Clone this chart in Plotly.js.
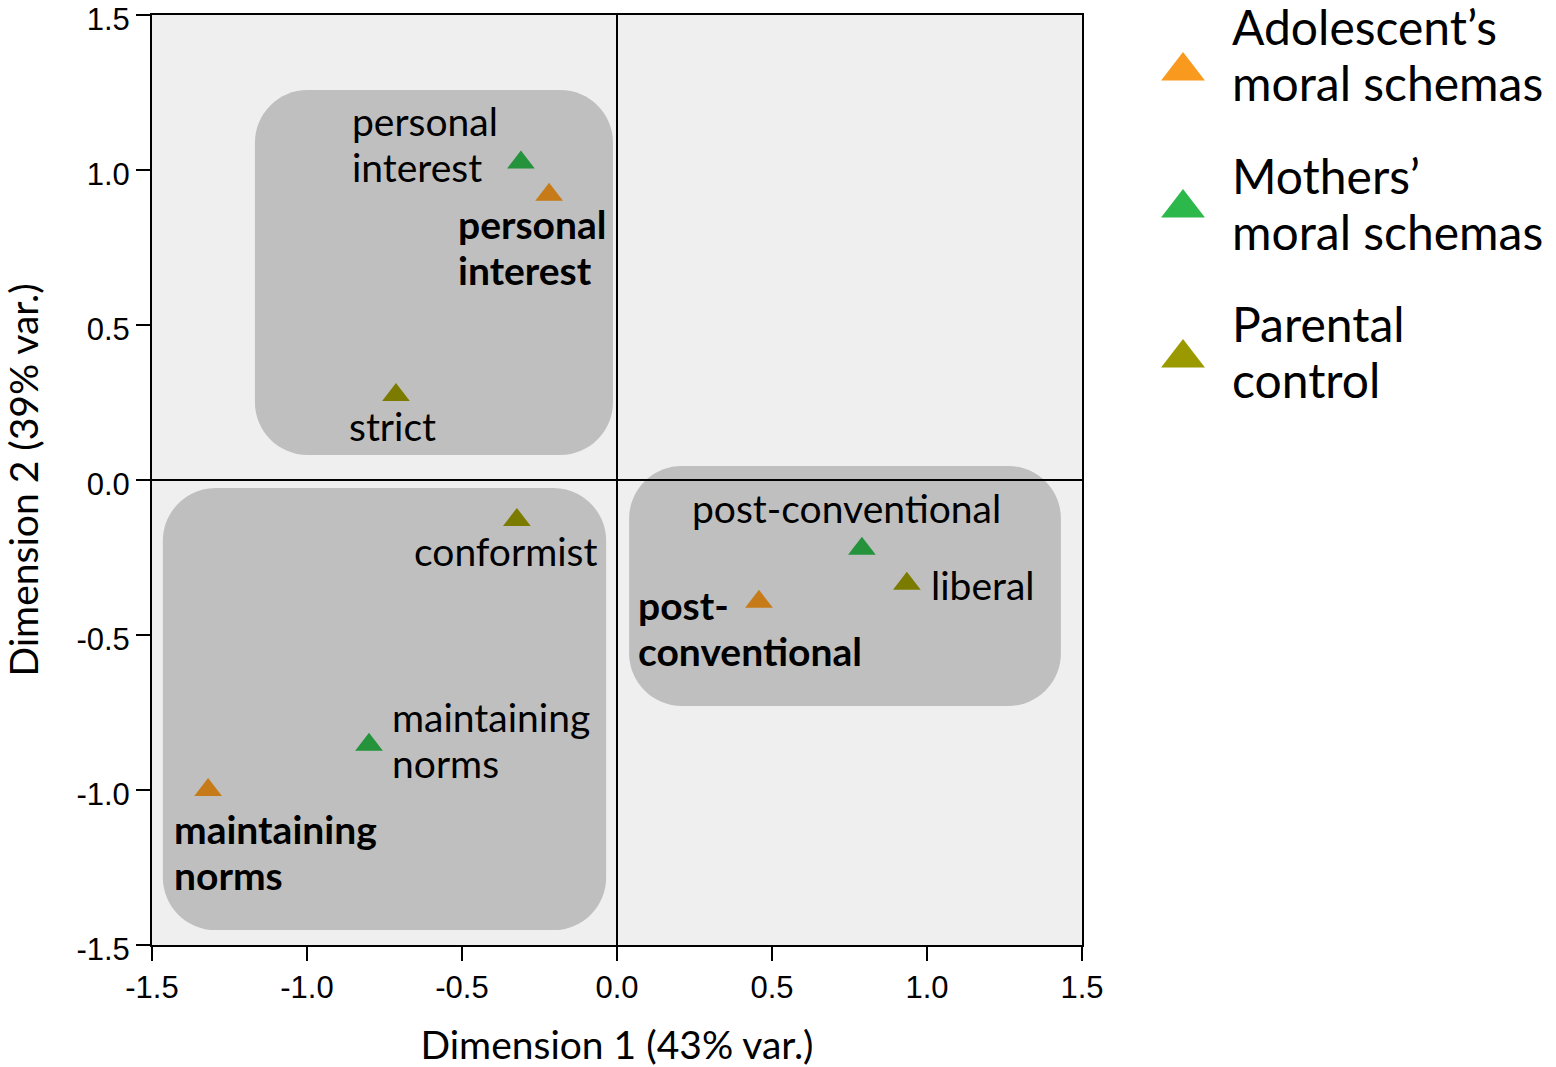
<!DOCTYPE html>
<html><head><meta charset="utf-8">
<script src="https://cdn.plot.ly/plotly-3.0.1.min.js"></script>
<style>html,body{margin:0;padding:0;background:#fff}</style>
</head><body><div id="chart" style="width:1556px;height:1067px"></div>
<script>
// ---- data ----
const seriesNames = ['Adolescent’s<br>moral schemas', 'Mothers’<br>moral schemas', 'Parental<br>control'];
const adolX = [-0.219, -1.319, 0.458];
const adolY = [0.920, -1.000, -0.393];
const adolLabels = ['personal<br>interest', 'maintaining<br>norms', 'post-<br>conventional'];
const motherX = [-0.310, -0.800, 0.790];
const motherY = [1.024, -0.854, -0.222];
const motherLabels = ['personal<br>interest', 'maintaining<br>norms', 'post-conventional'];
const parentX = [-0.713, -0.323, 0.935];
const parentY = [0.274, -0.129, -0.335];
const parentLabels = ['strict', 'conformist', 'liberal'];
const tickVals = [-1.5, -1.0, -0.5, 0, 0.5, 1.0, 1.5];
const tickText = ['-1.5', '-1.0', '-0.5', '0.0', '0.5', '1.0', '1.5'];

// ---- styling / layout helpers ----
const colors = ['#f99a1e', '#2db84b', '#9a9a00'];
const FONT = 'Lato, "Open Sans", sans-serif';
const labelSize = 39, labelLine = 46;
const globalDX = -3, globalDY = -4;
// label offsets in pixels [dx to left edge, dy down to block centre] relative to point
const adolOff = [[-90, 56], [-33, 66], [-120, 30]];
const motherOff = [[-168, -15], [24, -1], [-169, -37]];
const parentOff = [[-46, 35], [-102, 35], [25, 5]];

const series = [
  {x: adolX, y: adolY, labels: adolLabels, off: adolOff, bold: true},
  {x: motherX, y: motherY, labels: motherLabels, off: motherOff, bold: false},
  {x: parentX, y: parentY, labels: parentLabels, off: parentOff, bold: false}
];

const traces = series.map((s, i) => ({
  type: 'scatter', mode: 'markers', x: s.x, y: s.y, name: seriesNames[i],
  marker: {symbol: 'triangle-up', size: 24, color: colors[i], line: {width: 0}},
  showlegend: false, hoverinfo: 'skip', xaxis: 'x', yaxis: 'y'
}));

const annotations = [];
series.forEach((s) => {
  s.x.forEach((xv, j) => {
    const lines = s.labels[j].split('<br>');
    const n = lines.length;
    lines.forEach((ln, k) => {
      const dyLine = s.off[j][1] + globalDY + (k - (n - 1) / 2) * labelLine;
      annotations.push({
        x: xv, y: s.y[j], xref: 'x', yref: 'y', showarrow: false,
        text: s.bold ? '<b>' + ln + '</b>' : ln,
        xanchor: 'left', yanchor: 'middle',
        xshift: s.off[j][0] + globalDX, yshift: -dyLine,
        font: {family: FONT, size: labelSize, color: '#000'}
      });
    });
  });
});

// legend (drawn in a hidden pixel-scaled axis in the right margin)
const legendMarkY = [71, 208, 358];
const legendTextY = [54, 203, 351];
const legendMarkX = 1183, legendTextX = 1230, legendLine = 56, legendSize = 48;
traces.push({
  type: 'scatter', mode: 'markers', xaxis: 'x2', yaxis: 'y2',
  x: legendMarkY.map(() => legendMarkX), y: legendMarkY,
  marker: {symbol: 'triangle-up', size: 38, color: colors},
  showlegend: false, hoverinfo: 'skip'
});
seriesNames.forEach((nm, i) => {
  const lines = nm.split('<br>');
  lines.forEach((ln, k) => {
    annotations.push({
      x: legendTextX, y: legendTextY[i] + (k - (lines.length - 1) / 2) * legendLine,
      xref: 'x2', yref: 'y2', showarrow: false, text: ln,
      xanchor: 'left', yanchor: 'middle',
      font: {family: FONT, size: legendSize, color: '#000'}
    });
  });
});

function roundRect(x0, x1, y0, y1, r) {
  const k = 0.4477 * r;
  return `M${x0 + r},${y0} L${x1 - r},${y0} C${x1 - k},${y0} ${x1},${y0 + k} ${x1},${y0 + r} ` +
    `L${x1},${y1 - r} C${x1},${y1 - k} ${x1 - k},${y1} ${x1 - r},${y1} ` +
    `L${x0 + r},${y1} C${x0 + k},${y1} ${x0},${y1 - k} ${x0},${y1 - r} ` +
    `L${x0},${y0 + r} C${x0},${y0 + k} ${x0 + k},${y0} ${x0 + r},${y0} Z`;
}
const boxes = [
  [-1.168, -0.013, 0.081, 1.258],
  [-1.465, -0.035, -1.452, -0.026],
  [0.039, 1.432, -0.729, 0.045]
];
const shapes = [{
  type: 'rect', xref: 'x domain', yref: 'y domain', x0: 0, x1: 1, y0: 0, y1: 1,
  fillcolor: '#efefef', line: {width: 0}, layer: 'below'
}].concat(boxes.map(b => ({
  type: 'path', xref: 'x', yref: 'y', layer: 'above',
  path: roundRect(b[0], b[1], b[2], b[3], 0.17),
  fillcolor: 'rgba(0,0,0,0.2)', line: {width: 0}
})));

const axisCommon = {
  range: [-1.5, 1.5], tickmode: 'array', tickvals: tickVals, ticktext: tickText,
  ticks: 'outside', ticklen: 14, tickwidth: 2, tickcolor: '#000',
  showline: true, mirror: true, linecolor: '#000', linewidth: 2,
  zeroline: true, zerolinecolor: '#000', zerolinewidth: 1.5, showgrid: false,
  ticklabeloverflow: 'allow',
  tickfont: {family: '"Liberation Sans", Arial, sans-serif', size: 31, color: '#000'},
  fixedrange: true
};

const layout = {
  width: 1556, height: 1067,
  margin: {l: 152, r: 0, t: 15, b: 122},
  paper_bgcolor: '#ffffff', plot_bgcolor: 'rgba(0,0,0,0)',
  showlegend: false,
  xaxis: Object.assign({}, axisCommon, {
    domain: [0, 930 / 1404], anchor: 'y',
    title: {text: 'Dimension 1 (43% var.)', font: {family: FONT, size: 39, color: '#000'}, standoff: 30}
  }),
  yaxis: Object.assign({}, axisCommon, {
    domain: [0, 1], anchor: 'x', ticklabelshift: 4,
    title: {text: 'Dimension 2 (39% var.)', font: {family: FONT, size: 39, color: '#000'}, standoff: 40}
  }),
  xaxis2: {domain: [930 / 1404, 1], range: [1082, 1556], visible: false, anchor: 'y2', fixedrange: true},
  yaxis2: {domain: [0, 1], range: [945, 15], visible: false, anchor: 'x2', fixedrange: true},
  shapes: shapes,
  annotations: annotations
};

Plotly.newPlot('chart', traces, layout, {displayModeBar: false, responsive: false});
</script>
</body></html>
